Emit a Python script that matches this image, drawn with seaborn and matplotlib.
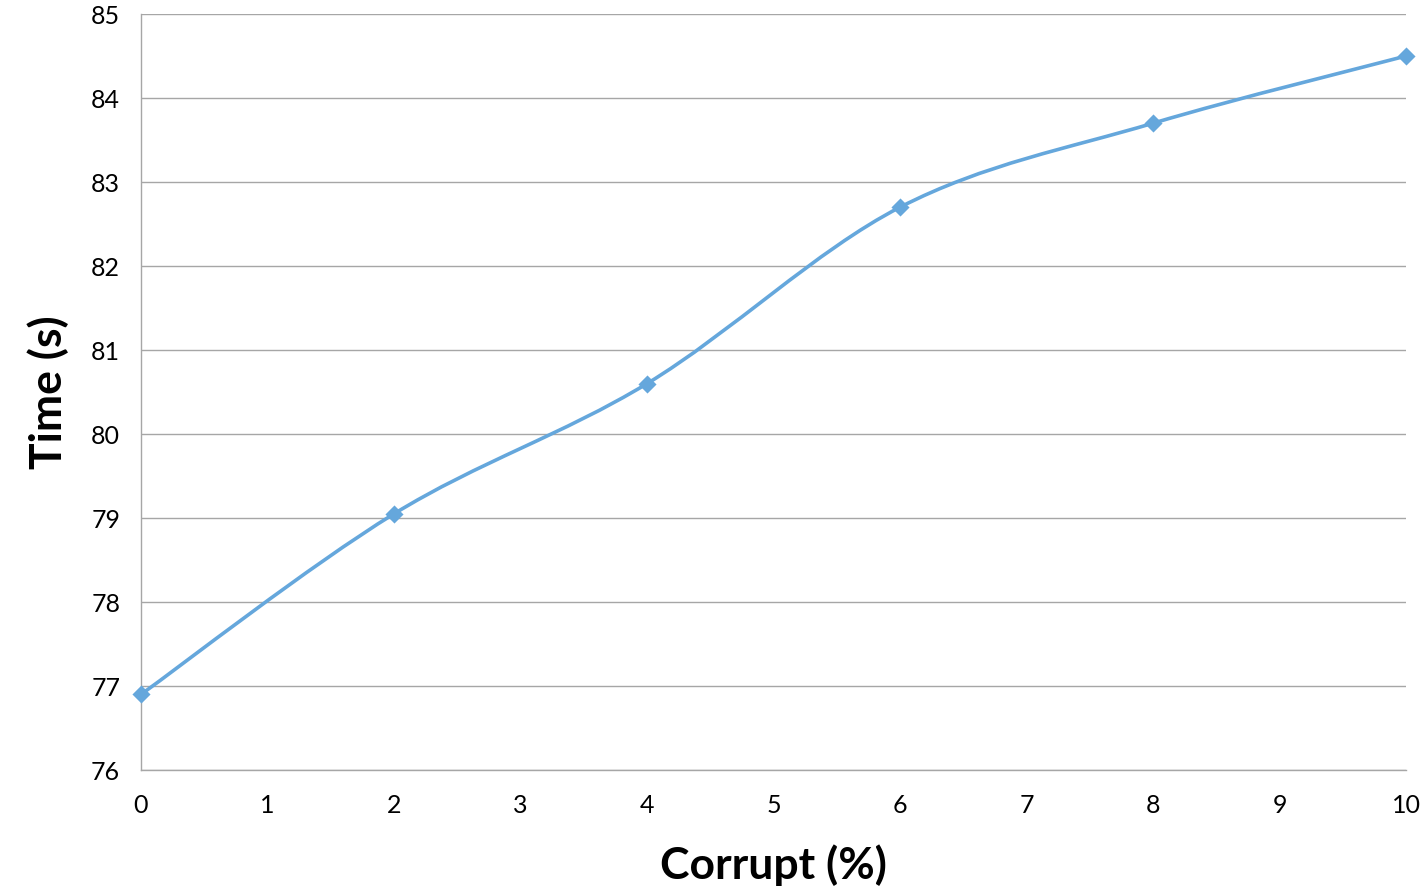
import seaborn as sns
import matplotlib.pyplot as plt
from matplotlib.path import Path
from matplotlib.patches import PathPatch
import numpy as np
import pandas as pd

corrupt = [0, 2, 4, 6, 8, 10]
time_s = [76.9, 79.05, 80.6, 82.7, 83.7, 84.5]
xticks = list(range(0, 11))
yticks = list(range(76, 86))

LINE = '#65A7DC'
GRID = '#A6A6A6'

sns.set_theme(style='white')
plt.rcParams['font.family'] = ['Lato', 'DejaVu Sans']

df = pd.DataFrame({'Corrupt': corrupt, 'Time': time_s})

fig = plt.figure(figsize=(14.27, 8.93), dpi=100)
ax = fig.add_axes([0.0988, 0.1377, 0.8865, 0.8466])

# smoothed line like Excel (Catmull-Rom -> cubic Bezier)
pts = np.column_stack([df['Corrupt'], df['Time']]).astype(float)
verts = [tuple(pts[0])]
codes = [Path.MOVETO]
n = len(pts)
for i in range(n - 1):
    p0 = pts[max(i - 1, 0)]
    p1 = pts[i]
    p2 = pts[i + 1]
    p3 = pts[min(i + 2, n - 1)]
    c1 = p1 + (p2 - p0) / 6
    c2 = p2 - (p3 - p1) / 6
    verts += [tuple(c1), tuple(c2), tuple(p2)]
    codes += [Path.CURVE4] * 3
ax.add_patch(PathPatch(Path(verts, codes), facecolor='none', edgecolor=LINE,
                       lw=2.6, zorder=3, clip_on=False))

sns.scatterplot(data=df, x='Corrupt', y='Time', marker='D', s=85, color=LINE,
                edgecolor=LINE, linewidth=0, ax=ax, zorder=4, clip_on=False)

ax.set_xlim(0, 10)
ax.set_ylim(76, 85)
ax.set_xticks(xticks)
ax.set_yticks(yticks)
ax.yaxis.grid(True, color=GRID, lw=1.0)
ax.xaxis.grid(False)
ax.set_axisbelow(True)

for s in ['top', 'right']:
    ax.spines[s].set_visible(False)
for s in ['left', 'bottom']:
    ax.spines[s].set_color(GRID)
    ax.spines[s].set_linewidth(1.0)

ax.tick_params(axis='both', which='major', direction='out', length=6, width=1.0,
               color=GRID, labelsize=18, labelcolor='black')
ax.tick_params(axis='y', pad=9)
ax.tick_params(axis='x', pad=11)

ax.set_xlabel('Corrupt (%)', fontsize=32, fontweight='bold', labelpad=20, color='black')
ax.set_ylabel('Time (s)', fontsize=32, fontweight='bold', labelpad=16, color='black')

fig.savefig('out.png', dpi=100)
